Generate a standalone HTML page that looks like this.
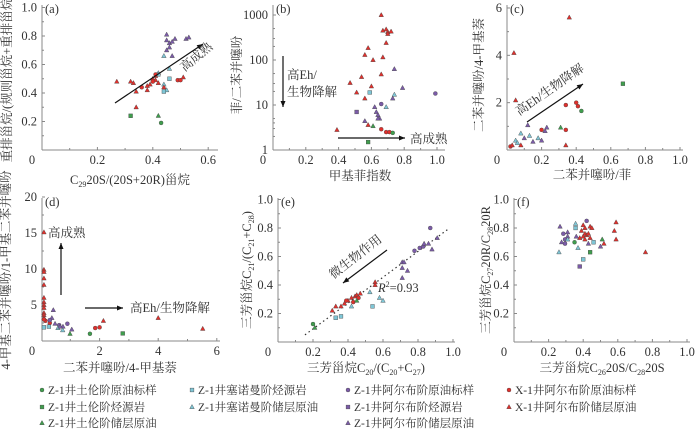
<!DOCTYPE html>
<html><head><meta charset="utf-8">
<style>
body{margin:0;background:#fff;}
svg{display:block;font-family:"Liberation Serif","Noto Serif CJK SC",serif;}
.t{font-size:12.5px;fill:#333;}
.lg{font-size:11.5px;fill:#333;}
</style></head>
<body>
<svg id="chart" width="700" height="432" viewBox="0 0 700 432" xmlns="http://www.w3.org/2000/svg">
<g id="layer"></g>
</svg>
<script>
const seriesNames=["Z-1井土伦阶原油标样","Z-1井土伦阶烃源岩","Z-1井土伦阶储层原油","Z-1井塞诺曼阶烃源岩","Z-1井塞诺曼阶储层原油","Z-1井阿尔布阶原油标样","Z-1井阿尔布阶烃源岩","Z-1井阿尔布阶储层原油","X-1井阿尔布阶原油标样","X-1井阿尔布阶储层原油"];
const seriesShape=["c","s","t","s","t","c","s","t","c","t"];
const seriesColor=["#3f9e4d","#3f9e4d","#3f9e4d","#7ec6d6","#7ec6d6","#7b5ba8","#7b5ba8","#7b5ba8","#e0302c","#e0302c"];

const aX=[0.45,0.45,0.46,0.47,0.48,0.46,0.52,0.53,0.47,0.45, 0.44,0.46,0.44,0.45,0.42, 0.44,0.46,0.42, 0.27,0.32,0.33,0.34,0.34,0.38,0.39,0.40,0.41,0.41,0.42,0.51,0.44,0.38, 0.36,0.40,0.41,0.49,0.50, 0.32,0.42,0.43];
const aY=[0.81,0.77,0.75,0.76,0.78,0.72,0.78,0.79,0.66,0.70, 0.66,0.57,0.46,0.42,0.54, 0.41,0.50,0.53, 0.48,0.48,0.47,0.41,0.30,0.42,0.46,0.50,0.52,0.49,0.47,0.51,0.44,0.45, 0.44,0.48,0.53,0.49,0.49, 0.24,0.24,0.19];
const aS=[7,7,7,7,7,7,7,7,7,7, 4,4,4,4,4, 3,3,3, 9,9,9,9,9,9,9,9,9,9,9,9,9,9, 8,8,8,8,8, 1,2,0];

const bX=[0.66,0.67,0.69,0.70,0.72,0.70,0.69,0.58,0.56,0.61,0.67,0.66,0.54,0.60,0.51,0.47,0.56,0.39,0.58, 0.59, 0.74,0.79,0.73,0.62,0.63,0.64,0.65,0.56,0.64, 0.74,0.69, 0.99,0.66, 0.51, 0.61, 0.66,0.69,0.71, 0.73, 0.58];
const bY=[1000,450,480,420,430,380,240,185,130,100,115,48,42,26,19,31,14,2.8,3.6, 19, 63,24,14,9,7,6,5,4.4,5, 17,9, 18,10.5, 7, 3.4, 2.9,2.5,2.5, 2.4, 1.5];
const bS=[9,9,9,9,9,9,9,9,9,9,9,9,9,9,9,9,9,9,9, 3, 7,7,7,7,7,7,7,7,7, 4,4, 5,5, 6, 2, 8,8,8, 0, 1];

const cX=[0.36,0.04,0.05,0.67,0.34,0.40,0.41,0.43,0.12,0.23,0.22,0.20,0.31,0.34,0.34, 0.08,0.13,0.18,0.10,0.05,0.02,0.03,0.06,0.15,0.20,0.08];
const cY=[5.6,4.1,2.1,2.8,1.9,2.0,1.85,1.65,1.05,0.95,0.8,0.85,0.95,0.85,0.2, 0.7,0.6,0.5,0.5,0.4,0.15,0.2,0.3,0.35,0.4,0.2];
const cS=[9,9,9,1,8,8,8,0,7,7,7,8,2,8,9, 4,4,4,7,4,8,9,4,7,7,9];

const dX=[0.1,0.1,0.1,0.1,0.1,0.1,0.1,0.1,0.1,0.1,0.1,0.1, 0.15,0.3,0.1, 0.42,0.37,0.3, 0.1,0.27, 0.48,0.62,0.75,0.58,1.05,0.74,0.99,0.65,0.9, 1.67,1.85,2.0,2.13,2.79,4.0,5.52];
const dY=[15.1,9.9,9.6,8.7,7.8,6.0,5.4,5.0,4.6,3.9,3.6,3.2, 2.8,2.5,3.0, 4.3,3.2,2.9, 1.9,2.0, 2.4,2.2,2.0,1.8,1.6,1.5,1.0,2.0,2.4, 1.0,1.8,1.9,2.8,1.05,3.2,1.7];
const dS=[9,9,9,9,9,9,9,9,9,9,9,9, 8,8,8, 7,7,5, 3,3, 7,5,7,4,7,4,2,7,5, 0,8,8,9,1,9,9];

const eX=[0.20,0.21,0.33,0.36,0.31,0.33,0.36,0.38,0.40,0.42,0.44,0.45,0.47,0.39,0.43,0.46,0.42, 0.54,0.58,0.60,0.555,0.555,0.525, 0.71,0.71,0.74,0.71,0.72, 0.78,0.81,0.83,0.835,0.87,0.88,0.86,0.91,0.45];
const eY=[0.126,0.10,0.17,0.18,0.22,0.25,0.25,0.27,0.29,0.31,0.32,0.33,0.34,0.29,0.28,0.31,0.25, 0.25,0.31,0.29,0.42,0.40,0.35, 0.56,0.52,0.50,0.45,0.56, 0.64,0.66,0.67,0.69,0.80,0.65,0.69,0.73,0.29];
const eS=[0,2,3,3,9,9,9,9,9,9,9,9,9,8,8,8,4, 3,4,4,9,9,4, 7,7,7,7,7, 5,5,5,7,5,7,7,7,2];
const eFit=[0.154,0.05,0.97,0.79];

const fX=[0.266,0.42,0.356,0.356, 0.40,0.41,0.44,0.45,0.39,0.41,0.42,0.40,0.43,0.38,0.44,0.41, 0.59,0.58,0.59,0.52,0.76, 0.51,0.35,0.44, 0.46,0.37,0.26,0.40,0.38, 0.285,0.31,0.31,0.295,0.275,0.295,0.36,0.43,0.50,0.31];
const fY=[0.81,0.85,0.83,0.80, 0.82,0.80,0.81,0.80,0.78,0.76,0.75,0.74,0.76,0.73,0.73,0.72, 0.84,0.78,0.72,0.69,0.63, 0.72,0.70,0.63, 0.70,0.66,0.63,0.58,0.53, 0.76,0.77,0.74,0.72,0.70,0.69,0.74,0.69,0.67,0.72];
const fS=[7,5,4,3, 9,9,9,9,9,9,9,9,9,9,9,9, 9,9,9,9,9, 2,0,1, 3,4,4,3,6, 5,7,7,5,7,5,7,7,7,4];

const NS="http://www.w3.org/2000/svg";
const root=document.getElementById('layer');
function mk(tag,attrs,parent){const e=document.createElementNS(NS,tag);for(const k in attrs)e.setAttribute(k,attrs[k]);(parent||root).appendChild(e);return e;}
function txt(x,y,s,anchor,cls,parent){const t=mk('text',{x:x,y:y,'text-anchor':anchor||'middle',class:cls||'t'},parent);t.textContent=s;return t;}

function marker(g,x,y,s){
  const col=seriesColor[s],sh=seriesShape[s];let m;
  if(sh==='c')m=mk('circle',{cx:x,cy:y,r:2,fill:col,stroke:'#444','stroke-width':0.4},g);
  else if(sh==='s')m=mk('rect',{x:x-1.9,y:y-1.9,width:3.8,height:3.8,fill:col,stroke:'#444','stroke-width':0.4},g);
  else m=mk('polygon',{points:(x)+','+(y-2.5)+' '+(x-2.3)+','+(y+1.7)+' '+(x+2.3)+','+(y+1.7),fill:col,stroke:'#444','stroke-width':0.4},g);
  return m;
}

function panel(p){
  const g=mk('g',{});
  
  
  const ax=mk('g',{},g);
  
  
  mk('line',{x1:p.ox,y1:p.oy,x2:p.xe,y2:p.oy,stroke:'#888','stroke-width':1},ax);
  mk('line',{x1:p.ox,y1:p.oy,x2:p.ox,y2:p.ye,stroke:'#888','stroke-width':1},ax);
  p.xt.forEach(v=>{const x=p.sx(v);mk('line',{x1:x,y1:p.oy,x2:x,y2:p.oy-3,stroke:'#888'},ax);});
  p.xm.forEach(v=>{const x=p.sx(v);mk('line',{x1:x,y1:p.oy,x2:x,y2:p.oy-2,stroke:'#888'},ax);});
  p.yt.forEach(v=>{const y=p.sy(v);mk('line',{x1:p.ox,y1:y,x2:p.ox+3,y2:y,stroke:'#888'},ax);});
  p.ym.forEach(v=>{const y=p.sy(v);mk('line',{x1:p.ox,y1:y,x2:p.ox+2,y2:y,stroke:'#888'},ax);});
  p.xl.forEach((s,i)=>{const t=txt(p.sx(p.xt[i]),p.oy+14,s);ax.appendChild(t);});
  p.yl.forEach((s,i)=>{const t=txt(p.ox-5,p.sy(p.yt[i])+4,s,'end');ax.appendChild(t);});
  const zl=txt(p.ox-10,p.oy+14,'0');
  const pl=txt(p.ox+3,p.ye+8,'('+p.id+')','start');
  const pts=mk('g',{},g);
  
  
  for(let i=0;i<p.X.length;i++){
    const m=marker(pts,p.sx(p.X[i]),p.sy(p.Y[i]),p.S[i]);
    
    
  }
  return g;
}

const la=Math.log10;
panel({id:'a',ox:42,oy:150,xe:218,ye:5,sx:v=>42+277*v,sy:v=>150-142.5*v,xt:[0.2,0.4,0.6],xm:[0.1,0.3,0.5],xl:['0.2','0.4','0.6'],yt:[0.2,0.4,0.6,0.8,1.0],ym:[0.1,0.3,0.5,0.7,0.9],yl:['0.2','0.4','0.6','0.8','1.0'],X:aX,Y:aY,S:aS});
panel({id:'b',ox:273,oy:150,xe:445,ye:5,sx:v=>273+164*v,sy:v=>150-45*la(v),xt:[0.2,0.4,0.6,0.8,1.0],xm:[0.1,0.3,0.5,0.7,0.9],xl:['0.2','0.4','0.6','0.8','1.0'],yt:[10,100,1000],ym:[2,3,4,5,20,30,50,200,300,500],yl:['10','100','1000'],X:bX,Y:bY,S:bS});
txt(268,154,'1','end');
panel({id:'c',ox:507,oy:150,xe:683,ye:5,sx:v=>507+173*v,sy:v=>150-23.67*v,xt:[0.2,0.4,0.6,0.8,1.0],xm:[0.1,0.3,0.5,0.7,0.9],xl:['0.2','0.4','0.6','0.8','1.0'],yt:[2,4,6],ym:[1,3,5],yl:['2','4','6'],X:cX,Y:cY,S:cS});
panel({id:'d',ox:42,oy:341,xe:220,ye:198,sx:v=>41+29.3*v,sy:v=>341-7.2*v,xt:[2,4,6],xm:[1,3,5],xl:['2','4','6'],yt:[5,10,15,20],ym:[2.5,7.5,12.5,17.5],yl:['5','10','15','20'],X:dX,Y:dY,S:dS});
const pe={id:'e',ox:278,oy:342,xe:455,ye:198,sx:v=>278+175*v,sy:v=>342-142.5*v,xt:[0.2,0.4,0.6,0.8,1.0],xm:[0.1,0.3,0.5,0.7,0.9],xl:['0.2','0.4','0.6','0.8','1.0'],yt:[0.2,0.4,0.6,0.8,1.0],ym:[0.1,0.3,0.5,0.7,0.9],yl:['0.2','0.4','0.6','0.8','1.0'],X:eX,Y:eY,S:eS};
const ge=panel(pe);
const fit=mk('line',{x1:pe.sx(eFit[0]),y1:pe.sy(eFit[1]),x2:pe.sx(eFit[2]),y2:pe.sy(eFit[3]),stroke:'#333','stroke-width':1.2,'stroke-dasharray':'1.5,3'});


root.insertBefore(fit,ge);
panel({id:'f',ox:514,oy:342,xe:690,ye:198,sx:v=>514+173*v,sy:v=>342-142.5*v,xt:[0.2,0.4,0.6,0.8,1.0],xm:[0.1,0.3,0.5,0.7,0.9],xl:['0.2','0.4','0.6','0.8','1.0'],yt:[0.2,0.4,0.6,0.8,1.0],ym:[0.1,0.3,0.5,0.7,0.9],yl:['0.2','0.4','0.6','0.8','1.0'],X:fX,Y:fY,S:fS});

const lgX=[42,192,348,509];
const lgPos=[[0,0],[0,1],[0,2],[1,0],[1,1],[2,0],[2,1],[2,2],[3,0],[3,1]];
const lgY=[394,411,427];
const lg=mk('g',{});


seriesNames.forEach((n,i)=>{
  const x=lgX[lgPos[i][0]],y=lgY[lgPos[i][1]];
  const e=mk('g',{},lg);
  
  
  marker(e,x,y-4,i);
  txt(x+6,y,n,'start','lg',e);
});
</script>
<script>
(function(){
const NS="http://www.w3.org/2000/svg";const root=document.getElementById('layer');
function arrow(x1,y1,x2,y2,name){const g=document.createElementNS(NS,'g');
 
 
 const l=document.createElementNS(NS,'line');l.setAttribute('x1',x1);l.setAttribute('y1',y1);l.setAttribute('x2',x2);l.setAttribute('y2',y2);l.setAttribute('stroke','#111');l.setAttribute('stroke-width','1.2');g.appendChild(l);
 const a=Math.atan2(y2-y1,x2-x1),h=6,w=2.5;
 const p=document.createElementNS(NS,'polygon');
 p.setAttribute('points',x2+','+y2+' '+(x2-h*Math.cos(a)+w*Math.sin(a))+','+(y2-h*Math.sin(a)-w*Math.cos(a))+' '+(x2-h*Math.cos(a)-w*Math.sin(a))+','+(y2-h*Math.sin(a)+w*Math.cos(a)));
 p.setAttribute('fill','#111');g.appendChild(p);root.appendChild(g);}
arrow(115,103,203,44,'arrow-high-maturity-a');
arrow(283,56,283,107,'arrow-high-eh-b');
arrow(338,138,405,138,'arrow-high-maturity-b');
arrow(527,122,583,84,'arrow-eh-c');
arrow(61,295,61,243,'arrow-high-maturity-d');
arrow(85,308,123,308,'arrow-eh-d');
arrow(387,250,343,283,'arrow-microbial-e');
})();
</script>
<script>
(function(){
const NS="http://www.w3.org/2000/svg";const svg=document.getElementById('chart');
const frag=`
<text class="t" font-size="14" transform="translate(199,60) rotate(-40)" text-anchor="middle">高成熟</text>
<text class="t" font-size="13.5" x="287" y="79">高Eh/</text>
<text class="t" font-size="13.5" x="287" y="96">生物降解</text>
<text class="t" font-size="13.5" x="410" y="143">高成熟</text>
<text class="t" font-size="14" transform="translate(552,93) rotate(-35)" text-anchor="middle">高Eh/生物降解</text>
<text class="t" font-size="13.5" x="48" y="237">高成熟</text>
<text class="t" font-size="13.5" x="130" y="312">高Eh/生物降解</text>
<text class="t" font-size="14" transform="translate(358,260) rotate(-38)" text-anchor="middle">微生物作用</text>
<text class="t" x="378" y="292"><tspan font-style="italic">R</tspan><tspan font-size="8" dy="-5">2</tspan><tspan dy="5">=0.93</tspan></text>
<text class="t" x="130" y="184" text-anchor="middle">C<tspan font-size="8" dy="3">29</tspan><tspan dy="-3">20S/(20S+20R)甾烷</tspan></text>
<text class="t" font-size="11" transform="translate(11,78) rotate(-90)" text-anchor="middle">重排甾烷/(规则甾烷+重排甾烷)</text>
<text class="t" font-size="13" x="360" y="180" text-anchor="middle">甲基菲指数</text>
<text class="t" font-size="13" transform="translate(241,75) rotate(-90)" text-anchor="middle">菲/二苯并噻吩</text>
<text class="t" font-size="13" x="592" y="179" text-anchor="middle">二苯并噻吩/菲</text>
<text class="t" font-size="13" transform="translate(483,75) rotate(-90)" text-anchor="middle">二苯并噻吩/4-甲基萘</text>
<text class="t" font-size="13" x="120" y="372" text-anchor="middle">二苯并噻吩/4-甲基萘</text>
<text class="t" font-size="10" transform="translate(10,270) rotate(-90)" text-anchor="middle">4-甲基二苯并噻吩/1-甲基二苯并噻吩</text>
<text class="t" font-size="13" x="366" y="372" text-anchor="middle">三芳甾烷C<tspan font-size="8" dy="3">20</tspan><tspan dy="-3">/(C</tspan><tspan font-size="8" dy="3">20</tspan><tspan dy="-3">+C</tspan><tspan font-size="8" dy="3">27</tspan><tspan dy="-3">)</tspan></text>
<text class="t" font-size="13" transform="translate(251,270) rotate(-90)" text-anchor="middle">三芳甾烷C<tspan font-size="8" dy="3">21</tspan><tspan dy="-3">/(C</tspan><tspan font-size="8" dy="3">21</tspan><tspan dy="-3">+C</tspan><tspan font-size="8" dy="3">28</tspan><tspan dy="-3">)</tspan></text>
<text class="t" font-size="13" x="602" y="372" text-anchor="middle">三芳甾烷C<tspan font-size="8" dy="3">26</tspan><tspan dy="-3">20S/C</tspan><tspan font-size="8" dy="3">28</tspan><tspan dy="-3">20S</tspan></text>
<text class="t" font-size="13" transform="translate(490,270) rotate(-90)" text-anchor="middle">三芳甾烷C<tspan font-size="8" dy="3">27</tspan><tspan dy="-3">20R/C</tspan><tspan font-size="8" dy="3">28</tspan><tspan dy="-3">20R</tspan></text>`;
const g=document.createElementNS(NS,'g');


g.innerHTML=frag;svg.appendChild(g);
})();
</script>
</body></html>
